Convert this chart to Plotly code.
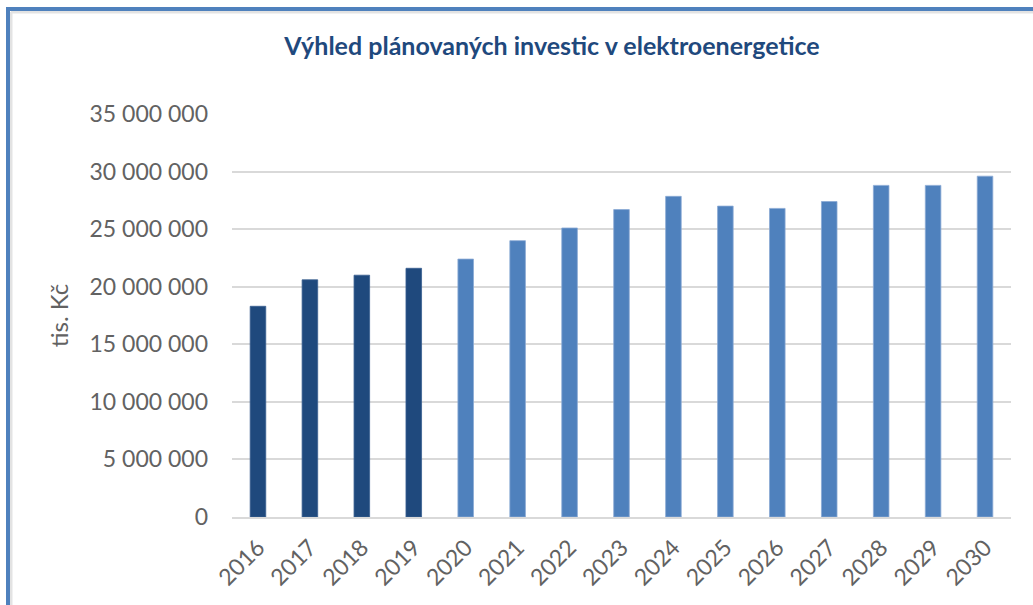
import plotly.graph_objects as go

years = ["2016", "2017", "2018", "2019", "2020", "2021", "2022", "2023",
         "2024", "2025", "2026", "2027", "2028", "2029", "2030"]
values = [18300000, 20600000, 21000000, 21600000, 22400000, 24000000, 25100000, 26700000,
          27850000, 27000000, 26800000, 27400000, 28800000, 28800000, 29600000]
actual_years = ["2016", "2017", "2018", "2019"]
tick_vals = [0, 5000000, 10000000, 15000000, 20000000, 25000000, 30000000, 35000000]
tick_text = ["0", "5 000 000", "10 000 000", "15 000 000", "20 000 000",
             "25 000 000", "30 000 000", "35 000 000"]

DARK = "#1F497D"
LIGHT = "#4F81BD"
TXT = "#626262"
colors = [DARK if y in actual_years else LIGHT for y in years]
edge = ["#3a5f90" if y in actual_years else "#8aaad4" for y in years]

W, H = 1033, 605
L, R, T, B = 232, 22, 114, 88
pw, ph = W - L - R, H - T - B

def px(x):
    return (x - L) / pw

def py(y):
    return (H - B - y) / ph

fig = go.Figure(go.Bar(
    x=years, y=values,
    marker=dict(color=colors, line=dict(color=edge, width=0.8)),
    width=0.3,
))

fig.update_layout(
    width=W, height=H,
    margin=dict(l=L, r=R, t=T, b=B, autoexpand=False),
    paper_bgcolor="white", plot_bgcolor="white",
    showlegend=False,
    font=dict(family="Lato, Open Sans, sans-serif", color=TXT),
    title=dict(text="<b>Výhled plánovaných investic v elektroenergetice</b>",
               x=552 / W, xanchor="center", y=1 - 46 / H, yanchor="middle",
               font=dict(family="Lato, Open Sans, sans-serif", size=25, color=DARK)),
    bargap=0.7,
    xaxis=dict(tickangle=-45, tickfont=dict(size=23, color=TXT),
               showgrid=False, showline=True, linecolor="#D9D9D9", linewidth=2,
               ticks="", ticklen=0, ticklabelstandoff=6),
    yaxis=dict(range=[0, 35000000], tickvals=tick_vals, ticktext=tick_text,
               tickfont=dict(size=23, color=TXT),
               showgrid=True, gridcolor="#D9D9D9", gridwidth=2,
               zeroline=False, ticks="", ticklabelstandoff=23,
               title=dict(text="tis. Kč", font=dict(size=24, color=TXT), standoff=14)),
)

# frame lines (blue border with light grey inner shadow)
fig.add_shape(type="line", xref="paper", yref="paper",
              x0=px(11), x1=px(11), y0=py(12), y1=py(H + 5),
              line=dict(color="#E3E3E3", width=3))
fig.add_shape(type="line", xref="paper", yref="paper",
              x0=px(11), x1=px(W + 5), y0=py(12), y1=py(12),
              line=dict(color="#E3E3E3", width=3))
fig.add_shape(type="line", xref="paper", yref="paper",
              x0=px(8), x1=px(8), y0=py(7), y1=py(H + 5),
              line=dict(color="#4F81BD", width=4))
fig.add_shape(type="line", xref="paper", yref="paper",
              x0=px(6), x1=px(W + 5), y0=py(9), y1=py(9),
              line=dict(color="#4F81BD", width=4))

fig.write_html("out.html", config={"displayModeBar": False},
               post_script="document.body.style.margin='0';document.body.style.overflow='hidden';")
